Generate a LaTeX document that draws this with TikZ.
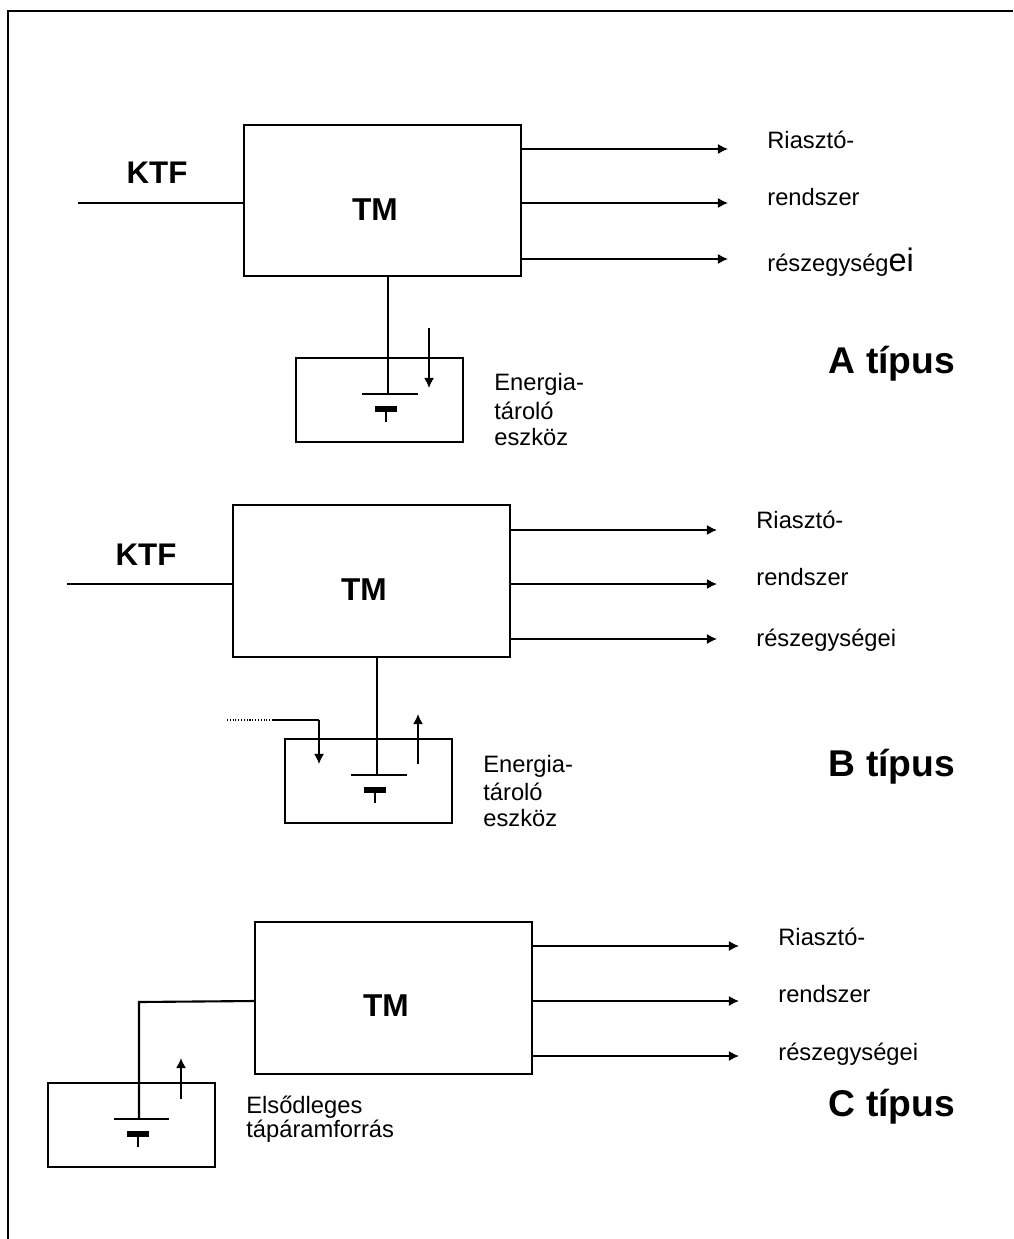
\documentclass[tikz,border=0pt]{standalone}
\usepackage{xcolor}
\usepackage{fontspec}
\setmainfont{Liberation Sans}
\usetikzlibrary{arrows.meta, positioning}
\tikzset{
  tmbox/.style={rectangle, draw=black, line width=1.2pt, minimum width=5.54cm,
    minimum height=3.03cm, inner sep=0pt},
  tmlabel/.style={inner sep=0pt, font=\fontsize{18}{20}\selectfont\bfseries},
  storebox/.style={rectangle, draw=black, line width=1.2pt, minimum width=3.34cm,
    minimum height=1.68cm, inner sep=0pt},
  label/.style={anchor=west, inner sep=0pt, font=\fontsize{13.5}{15}\selectfont},
  ktflabel/.style={inner sep=0pt, font=\fontsize{17.8}{20}\selectfont\bfseries},
  typelabel/.style={inner sep=0pt, font=\fontsize{21.2}{24}\selectfont\bfseries},
  arrow/.style={-{Latex[length=5.7pt,width=5.7pt]}, line width=0.9pt},
  wire/.style={line width=1.2pt},
  thinplate/.style={line width=1pt},
  thickplate/.style={line width=2.9pt}
}
\begin{document}
\begin{tikzpicture}[x=0.02cm, y=-0.02cm]
  \useasboundingbox (0,0) rectangle (1013,1239);
  % Frame
  \draw[line width=1pt] (8,1239) -- (8,11) -- (1013,11);

  % A type
  \node[tmbox] (tmA) at (382.5,200.5) {};
  \node[tmlabel] (tmAtext) at (375,210) {TM};
  \node[storebox] (storeA) at (379.5,400) {};
  \node[ktflabel] (ktfA) at (157,173) {KTF};
  \coordinate (ktfAend) at (78,203);
  \draw[wire] (ktfAend) -- (tmA.west |- ktfAend);
  \foreach \y/\txt/\ty/\nm in {149/Riasztó-/140/a, 203/rendszer/197/b}
    {
      \coordinate (endA\nm) at (728,\y);
      \draw[arrow] (tmA.east |- endA\nm) -- (endA\nm);
      \node[label] (txtA\nm) at (767,\ty) {\txt};
    }
  \coordinate (endAc) at (728,259);
  \draw[arrow] (tmA.east |- endAc) -- (endAc);
  \node[label] (txtAc) at (767,262) {részegység{\fontsize{18.5}{20}\selectfont ei}};
  % battery
  \coordinate (plateA) at (388,394);
  \draw[wire] (tmA.south -| plateA) -- (plateA);
  \draw[thinplate] (362,394) -- (418,394);
  \draw[thickplate] (375,409) -- (397,409);
  \draw[wire] (386,409) -- (386,422);
  \coordinate (inAs) at (429,328);
  \coordinate (inAe) at (429,388);
  \draw[arrow] (inAs) -- (inAe);
  \node[label] (enA1) at (494,384) {Energia-};
  \node[label] (enA2) at (494,411) {tároló};
  \node[label] (enA3) at (494,437) {eszköz};
  \node[typelabel] (typeA) at (892,364) {A típus};

  % B type
  \node[tmbox] (tmB) at (371.5,581) {};
  \node[tmlabel] (tmBtext) at (364,590) {TM};
  \node[storebox] (storeB) at (368.5,781) {};
  \node[ktflabel] (ktfB) at (146,555) {KTF};
  \coordinate (ktfBend) at (67,584);
  \draw[wire] (ktfBend) -- (tmB.west |- ktfBend);
  \foreach \y/\txt/\ty/\nm in {530/Riasztó-/520/a, 584/rendszer/577/b, 639/részegységei/640/c}
    {
      \coordinate (endB\nm) at (717,\y);
      \draw[arrow] (tmB.east |- endB\nm) -- (endB\nm);
      \node[label] (txtB\nm) at (756,\ty) {\txt};
    }
  % battery
  \coordinate (plateB) at (377,775);
  \draw[wire] (tmB.south -| plateB) -- (plateB);
  \draw[thinplate] (351,775) -- (407,775);
  \draw[thickplate] (364,790) -- (386,790);
  \draw[wire] (375,790) -- (375,803);
  \coordinate (dotB) at (227,720);
  \coordinate (kneeB) at (273,720);
  \coordinate (cornerB) at (319,720);
  \coordinate (inBe) at (319,764);
  \draw[line width=0.6pt, densely dotted] (dotB) -- (kneeB);
  \draw[line width=0.6pt] (kneeB) -- (cornerB);
  \draw[arrow] (cornerB) -- (inBe);
  \coordinate (outBs) at (418,764);
  \coordinate (outBe) at (418,714);
  \draw[arrow] (outBs) -- (outBe);
  \node[label] (enB1) at (483,766) {Energia-};
  \node[label] (enB2) at (483,792) {tároló};
  \node[label] (enB3) at (483,818) {eszköz};
  \node[typelabel] (typeB) at (892,767) {B típus};

  % C type
  \node[tmbox] (tmC) at (393.5,998) {};
  \node[tmlabel] (tmCtext) at (386,1006) {TM};
  \node[storebox] (storeC) at (131.5,1125) {};
  \foreach \y/\txt/\ty/\nm in {946/Riasztó-/937/a, 1001/rendszer/994/b, 1056/részegységei/1054/c}
    {
      \coordinate (endC\nm) at (739,\y);
      \draw[arrow] (tmC.east |- endC\nm) -- (endC\nm);
      \node[label] (txtC\nm) at (778,\ty) {\txt};
    }
  % battery
  \coordinate (tmCin) at (255,1001);
  \coordinate (kneeC) at (139,1002);
  \coordinate (plateC) at (139,1119);
  \draw[wire] (tmCin) -- (kneeC) -- (plateC);
  \draw[thinplate] (114,1119) -- (169,1119);
  \draw[thickplate] (127,1134) -- (149,1134);
  \draw[wire] (138,1134) -- (138,1147);
  \coordinate (outCs) at (181,1099);
  \coordinate (outCe) at (181,1058);
  \draw[arrow] (outCs) -- (outCe);
  \node[label] (enC1) at (246,1107) {Elsődleges};
  \node[label] (enC2) at (246,1131) {tápáramforrás};
  \node[typelabel] (typeC) at (892,1107) {C típus};
\end{tikzpicture}
\end{document}
